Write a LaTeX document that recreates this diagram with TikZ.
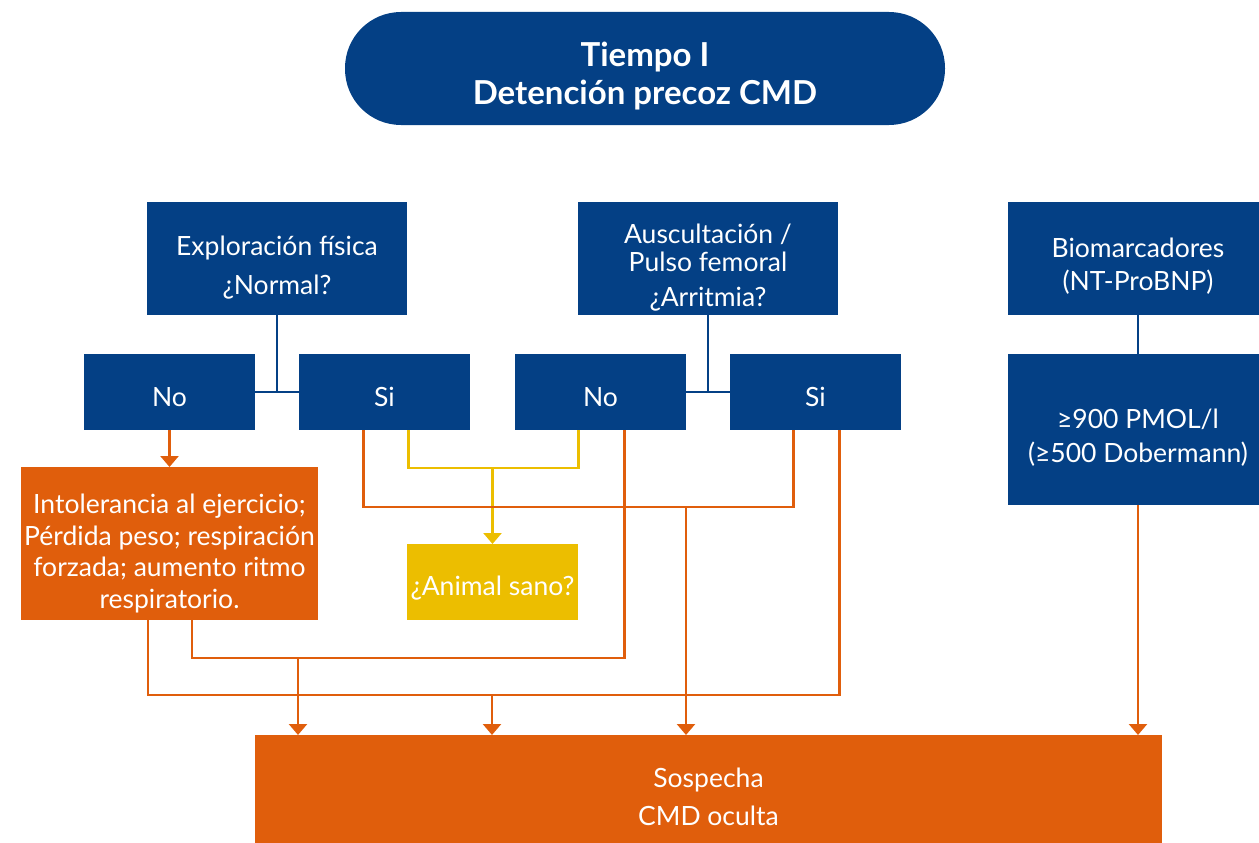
\documentclass[tikz,border=0pt]{standalone}
\usepackage{fontspec}
\setmainfont{Lato}
\usetikzlibrary{arrows.meta,calc}
\definecolor{cmdblue}{RGB}{4,64,133}
\definecolor{cmdorange}{RGB}{224,94,12}
\definecolor{cmdyellow}{RGB}{236,190,0}
\begin{document}
\begin{tikzpicture}[x=1pt,y=-1pt,
  box/.style={anchor=north west,inner sep=0pt,outer sep=0pt},
  bluebox/.style={box,fill=cmdblue,minimum width=260pt,minimum height=113pt},
  answer/.style={box,fill=cmdblue,minimum width=171pt,minimum height=76pt},
  lbl/.style={inner sep=0pt,text=white,align=center,font=\fontsize{26.5}{32}\selectfont},
  bline/.style={draw=cmdblue,line width=2.5pt},
  oline/.style={draw=cmdorange,line width=2.5pt},
  yline/.style={draw=cmdyellow,line width=2.5pt},
  otip/.style={-{Triangle[width=18pt,length=11pt]}},
]
\clip (0,0) rectangle (1259,843);
\useasboundingbox (0,0) rectangle (1259,843);

% title banner
\node[fill=cmdblue,rounded corners=56pt,minimum width=600pt,minimum height=113pt,
  inner sep=0pt] (title) at (645,68.5) {};
\node[lbl,font=\fontsize{33}{38}\selectfont\bfseries] (title-t) at ($(title.center)+(0,8)$)
  {Tiempo I\\Detención precoz CMD};

% question boxes
\node[bluebox] (expl) at (147,202) {};
\node[lbl,font=\fontsize{26.5}{39}\selectfont] (expl-t) at ($(expl.center)+(0,9)$)
  {Exploración física\\¿Normal?};
\node[bluebox] (ausc) at (578,202) {};
\node[lbl,font=\fontsize{26.5}{28}\selectfont] (ausc-t) at ($(ausc.center)+(0,9)$)
  {Auscultación /\\Pulso femoral\\[7pt]¿Arritmia?};
\node[bluebox] (bio) at (1008,202) {};
\node[lbl,font=\fontsize{26.5}{33}\selectfont] (bio-t) at ($(bio.center)+(0,8)$)
  {Biomarcadores\\(NT-ProBNP)};

% answers
\node[answer] (no1) at (84,354) {};
\node[lbl] (no1-t) at ($(no1.center)+(0,5)$) {No};
\node[answer] (si1) at (299,354) {};
\node[lbl] (si1-t) at ($(si1.center)+(0,5)$) {Si};
\node[answer] (no2) at (515,354) {};
\node[lbl] (no2-t) at ($(no2.center)+(0,5)$) {No};
\node[answer] (si2) at (730,354) {};
\node[lbl] (si2-t) at ($(si2.center)+(0,5)$) {Si};
\node[bluebox,minimum height=151pt] (thr) at (1008,354) {};
\node[lbl,font=\fontsize{26.5}{34}\selectfont] (thr-t) at ($(thr.center)+(0,8)$)
  {≥900 PMOL/l\\(≥500 Dobermann)};

% outcomes
\node[box,fill=cmdorange,minimum width=297pt,minimum height=153pt] (sint) at (21,467) {};
\node[lbl,font=\fontsize{26.5}{31.7}\selectfont] (sint-t) at ($(sint.center)+(0,10)$)
  {Intolerancia al ejercicio;\\Pérdida peso; respiración\\forzada; aumento ritmo\\respiratorio.};
\node[box,fill=cmdyellow,minimum width=171pt,minimum height=76pt] (sano) at (407,544) {};
\node[lbl] (sano-t) at ($(sano.center)+(0,6)$) {¿Animal sano?};
\node[box,fill=cmdorange,minimum width=907pt,minimum height=115pt] (sosp) at (255,735) {};
\node[lbl,font=\fontsize{26.5}{38}\selectfont] (sosp-t) at ($(sosp.center)+(0,4)$)
  {Sospecha\\CMD oculta};

% blue branching
\draw[bline] (expl.south) -- (expl.south |- no1.east);
\draw[bline] (no1.east) -- (si1.west);
\draw[bline] (ausc.south) -- (ausc.south |- no2.east);
\draw[bline] (no2.east) -- (si2.west);
\draw[bline] (bio.south) -- (thr.north);

% attachment points under the answer boxes
\coordinate (si1a) at ($(si1.south)+(-21,0)$);
\coordinate (si1b) at ($(si1.south)+(24,0)$);
\coordinate (no2a) at ($(no2.south)+(-22,0)$);
\coordinate (no2b) at ($(no2.south)+(24,0)$);
\coordinate (si2a) at ($(si2.south)+(-22,0)$);
\coordinate (si2b) at ($(si2.south)+(24,0)$);
\coordinate (sinta) at ($(sint.south)+(-21.5,0)$);
\coordinate (sintb) at ($(sint.south)+(22.5,0)$);

% No -> symptoms
\draw[oline,otip] (no1.south) -- (sint.north -| no1.south);

% healthy animal
\coordinate (yl) at (sano.north |- 0,468);
\draw[yline] (si1b) -- (si1b |- yl) -- (no2a |- yl) -- (no2a);
\draw[yline,otip] (yl) -- (sano.north);

% suspicion paths
\coordinate (m1) at (686,507);
\draw[oline] (si1a) -- (si1a |- m1) -- (si2a |- m1) -- (si2a);
\draw[oline,otip] (m1) -- (m1 |- sosp.north);

\coordinate (m2) at (298,658);
\draw[oline] (sintb) -- (sintb |- m2) -- (no2b |- m2) -- (no2b);
\draw[oline,otip] (m2) -- (m2 |- sosp.north);

\coordinate (m3) at (492,695);
\draw[oline] (sinta) -- (sinta |- m3) -- (si2b |- m3) -- (si2b);
\draw[oline,otip] (m3) -- (m3 |- sosp.north);

\draw[oline,otip] (thr.south) -- (thr.south |- sosp.north);
\end{tikzpicture}
\end{document}
